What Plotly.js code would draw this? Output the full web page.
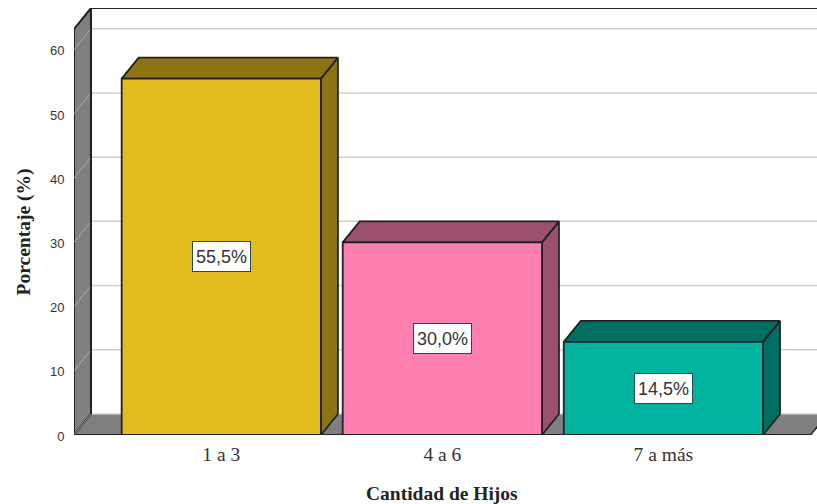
<!DOCTYPE html>
<html><head><meta charset="utf-8">
<script src="https://cdn.plot.ly/plotly-3.0.1.min.js"></script>
<style>html,body{margin:0;padding:0;background:#fff;overflow:hidden}</style>
</head><body><div id="chart" style="width:817px;height:504px"></div>
<script>
const categories = ["1 a 3", "4 a 6", "7 a más"];
const percentages = [55.5, 30.0, 14.5];
const labels = ["55,5%", "30,0%", "14,5%"];
const yTicks = [0, 10, 20, 30, 40, 50, 60];
const faceColors = ["#E1BC1C", "#FF7FB0", "#00B39E"];
const shadeColors = ["#8C7414", "#9C5070", "#006F62"];

// Oblique projection of the SPSS-style 3D chart, in data units
const unitX = 221.2, unitY = 6.42, originX = 220.9;
const depthX = 17 / unitX, depthY = 21 / unitY;
const barHalf = 99.7 / unitX;
const xMin = (73.5 - originX) / unitX, xEnd = (810.5 - originX) / unitX;
const xRange = [xMin, (817 - originX) / unitX];
const yTop = 66.5;
const wallTop = yTop - depthY;
const edge = "#222222";

function poly(xs, ys, fill, lineColor, w) {
  return {x: xs, y: ys, type: "scatter", mode: "lines", fill: "toself", fillcolor: fill,
    line: {color: lineColor, width: w === undefined ? 1.8 : w}, hoverinfo: "skip", cliponaxis: false, showlegend: false};
}
function line(xs, ys, color, w) {
  return {x: xs, y: ys, type: "scatter", mode: "lines", line: {color: color, width: w},
    hoverinfo: "skip", cliponaxis: false, showlegend: false};
}

const traces = [];
// gridlines on the back wall
yTicks.slice(1).forEach(t => {
  traces.push(line([xMin + depthX, xRange[1]], [t + depthY, t + depthY], "#CFCFCF", 1.5));
});
// floor
traces.push(poly([xMin, xEnd, xEnd + depthX, xMin + depthX, xMin], [0, 0, depthY, depthY, 0], "#7F7F7F", "rgba(0,0,0,0)", 0));
traces.push(line([xMin + depthX, xRange[1]], [depthY, depthY], "#C8C8C8", 1.5));
traces.push(line([xEnd, xEnd + depthX], [0, depthY], edge, 1.5));
// left wall
traces.push(poly([xMin, xMin + depthX, xMin + depthX, xMin, xMin], [0, depthY, yTop, wallTop, 0], "#7F7F7F", edge, 2));
yTicks.forEach(t => {
  traces.push(line([xMin, xMin + depthX], [t, t + depthY], "#ABABAB", 1));
});
traces.push(line([xMin + depthX, xMin + depthX], [depthY, yTop], edge, 2));
traces.push(line([xMin + depthX, xRange[1]], [yTop, yTop], edge, 2));
traces.push(line([xMin, xEnd], [0, 0], edge, 2));
// bars
percentages.forEach((v, i) => {
  const l = i - barHalf, r = i + barHalf;
  traces.push(poly([r, r + depthX, r + depthX, r, r], [0, depthY, v + depthY, v, 0], shadeColors[i], edge));
  traces.push(poly([l, r, r + depthX, l + depthX, l], [v, v, v + depthY, v + depthY, v], shadeColors[i], edge));
  traces.push(poly([l, r, r, l, l], [0, 0, v, v, 0], faceColors[i], edge));
});

const titleFont = {family: "Liberation Serif", size: 19.5, color: "#222", weight: "bold"};
const layout = {
  width: 817, height: 504,
  margin: {l: 73.5, r: 0, t: 8, b: 69, pad: 0},
  paper_bgcolor: "#fff", plot_bgcolor: "#fff", showlegend: false,
  xaxis: {
    range: xRange, tickmode: "array", tickvals: categories.map((c, i) => i), ticktext: categories,
    showgrid: false, zeroline: false, showline: false, ticks: "outside", ticklen: 2, tickcolor: "rgba(0,0,0,0)",
    tickfont: {family: "Liberation Serif", size: 19.5, color: "#333"}
  },
  yaxis: {
    range: [0, yTop], tickmode: "array", tickvals: yTicks, ticktext: yTicks.map(String),
    showgrid: false, zeroline: false, showline: false, ticks: "outside", ticklen: 6, tickcolor: "rgba(0,0,0,0)",
    ticklabelshift: 1,
    tickfont: {family: "Liberation Sans", size: 13, color: "#333"}
  },
  annotations: percentages.map((v, i) => ({
    x: i, y: v / 2, xref: "x", yref: "y", text: labels[i], showarrow: false,
    font: {family: "Liberation Sans", size: 18, color: "#333"},
    bgcolor: "#fff", bordercolor: "#2a4a4a", borderwidth: 1, borderpad: 0, width: 57, height: 29
  })).concat([
    {x: 1, y: 0, xref: "x", yref: "y", yshift: -58, text: "Cantidad de Hijos", showarrow: false, font: titleFont},
    {x: xMin, y: (435 - 232.5) / unitY, xref: "x", yref: "y", xshift: -50, textangle: -90, text: "Porcentaje (%)", showarrow: false, font: titleFont}
  ])
};
Plotly.newPlot("chart", traces, layout, {displayModeBar: false, staticPlot: true});
</script></body></html>
